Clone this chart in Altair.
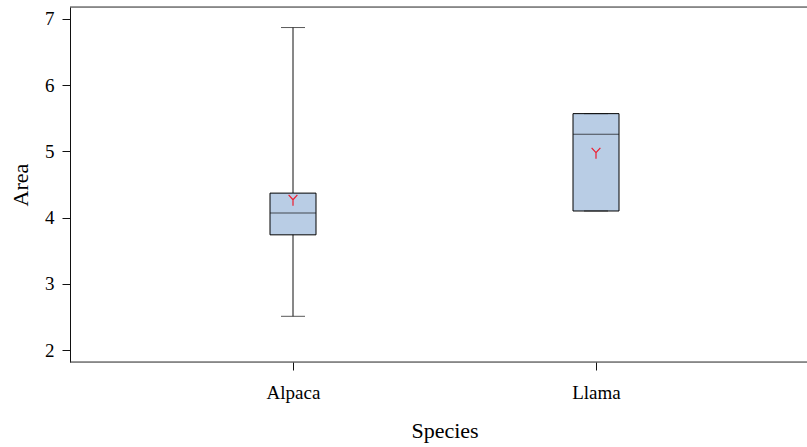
import altair as alt
import pandas as pd

# Summary statistics per species
species = ["Alpaca", "Llama"]
whisker_low = [2.51, 4.10]
q1 = [3.74, 4.10]
median = [4.07, 5.26]
q3 = [4.37, 5.57]
whisker_high = [6.87, 5.57]
mean = [4.27, 4.98]

df = pd.DataFrame({
    "Species": species,
    "lo": whisker_low,
    "q1": q1,
    "med": median,
    "q3": q3,
    "hi": whisker_high,
    "mean": mean,
})

W, H = 737, 355
FONT = "Liberation Serif"

x = alt.X(
    "Species:N",
    scale=alt.Scale(type="point", range=[223, 526], padding=0),
    axis=alt.Axis(
        title="Species", domain=False, tickSize=8, tickColor="#111",
        labelAngle=0, labelPadding=13, labelFontSize=19, titleFontSize=22,
        labelFont=FONT, titleFont=FONT, labelColor="black", titleColor="black",
        titleFontWeight="normal", titleY=68, titleBaseline="middle",
    ),
)
yscale = alt.Scale(domain=[1.82, 7.18], nice=False, zero=False)
yaxis = alt.Axis(
    title="Area", values=[2, 3, 4, 5, 6, 7], format="d", tickSize=8,
    tickColor="#111", domainColor="#111", labelPadding=8, labelFontSize=19,
    titleFontSize=22, labelFont=FONT, titleFont=FONT, labelColor="black",
    titleColor="black", titleFontWeight="normal", titleX=-50, titleY=H / 2,
    titleBaseline="middle", grid=False,
)

base = alt.Chart(df)

whisker = base.mark_rule(color="#111", strokeWidth=1).encode(
    x=x, y=alt.Y("lo:Q", scale=yscale, axis=yaxis), y2="hi:Q"
)
box = base.mark_bar(size=46, fill="#b9cde5", stroke="black", strokeWidth=1).encode(
    x=x, y=alt.Y("q1:Q", scale=yscale), y2="q3:Q"
)
med = base.mark_tick(size=46, color="#111", thickness=1).encode(
    x=x, y=alt.Y("med:Q", scale=yscale)
)
cap_lo = base.mark_tick(size=24, color="#111", thickness=1).encode(
    x=x, y=alt.Y("lo:Q", scale=yscale)
)
cap_hi = base.mark_tick(size=24, color="#111", thickness=1).encode(
    x=x, y=alt.Y("hi:Q", scale=yscale)
)
mean_mark = base.mark_point(
    shape="M-0.8,-0.9L0,0L0.8,-0.9M0,0L0,1.1",
    size=120, filled=False, color="#ee1c2e", strokeWidth=1.2, opacity=1,
).encode(x=x, y=alt.Y("mean:Q", scale=yscale))

# Frame lines at top and bottom of the plot area
frame = alt.Chart(pd.DataFrame({"y": [0, H]})).mark_rule(
    color="#333", strokeWidth=1
).encode(y=alt.Y("y:Q", scale=None), x=alt.value(0), x2=alt.value(W))

chart = alt.layer(whisker, box, med, cap_lo, cap_hi, mean_mark, frame).properties(
    width=W, height=H,
    autosize=alt.AutoSizeParams(type="none"),
    padding={"left": 70, "top": 7, "right": 0, "bottom": 85},
).configure_view(stroke=None).configure(background="white")

chart.save("out.html", embed_options={"renderer": "svg", "actions": False})
